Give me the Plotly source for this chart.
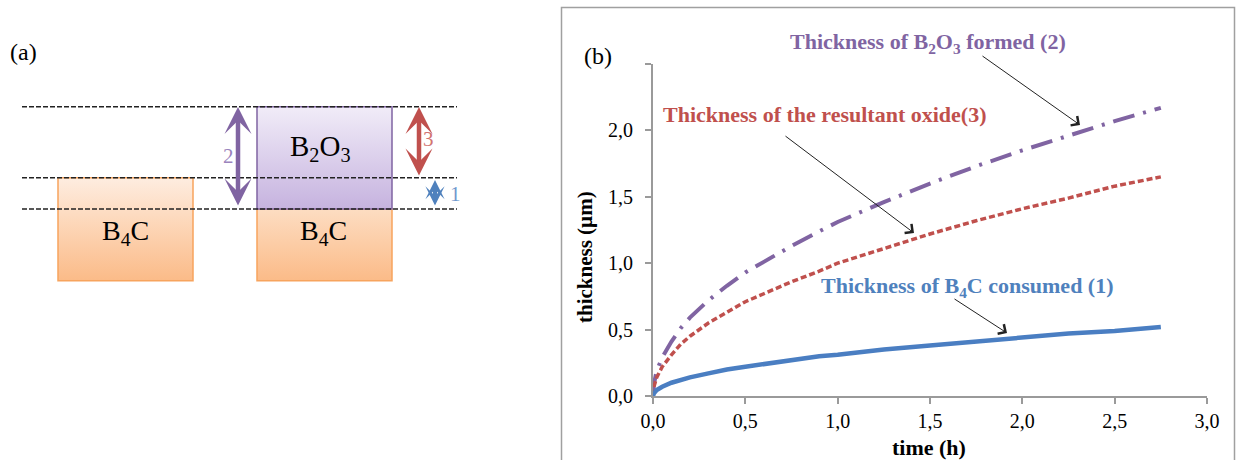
import plotly.graph_objects as go

# ---------------- data (panel b) ----------------
time_h = [0, 0.005, 0.02, 0.05, 0.1, 0.15, 0.2, 0.3, 0.4, 0.5, 0.6, 0.75, 0.9, 1.0,
          1.25, 1.5, 1.75, 2.0, 2.25, 2.5, 2.75]
b4c_consumed = [0, 0.02, 0.045, 0.07, 0.10, 0.12, 0.14, 0.17, 0.20, 0.22, 0.24, 0.27, 0.30, 0.31,
                0.35, 0.38, 0.41, 0.44, 0.47, 0.49, 0.52]
b2o3_formed = [0, 0.09, 0.19, 0.29, 0.41, 0.51, 0.59, 0.72, 0.83, 0.93, 1.01, 1.13, 1.24, 1.31,
               1.46, 1.60, 1.73, 1.85, 1.96, 2.07, 2.17]
resultant_oxide = [0, 0.07, 0.14, 0.22, 0.31, 0.39, 0.45, 0.55, 0.63, 0.71, 0.77, 0.86, 0.94, 1.00,
                   1.11, 1.22, 1.32, 1.41, 1.49, 1.58, 1.65]

x_tick_vals = [0, 0.5, 1.0, 1.5, 2.0, 2.5, 3.0]
x_tick_text = ["0,0", "0,5", "1,0", "1,5", "2,0", "2,5", "3,0"]
y_tick_vals = [0, 0.5, 1.0, 1.5, 2.0, 2.5]
y_tick_text = ["0,0", "0,5", "1,0", "1,5", "2,0", ""]

W, H = 1236, 460
PURPLE = "#8064A2"
RED = "#C0504D"
BLUE = "#4A7EC2"
AXIS = "#9A9A9A"
SERIF = "Liberation Serif"


def P(py):
    """convert a pixel row (from the top) to the overlay y axis (up)"""
    return H - py


fig = go.Figure()

# ---- panel b curves ----
fig.add_trace(go.Scatter(x=time_h, y=b2o3_formed, mode="lines",
                         line=dict(color=PURPLE, width=4, dash="22px,9px,3px,9px"),
                         name="Thickness of B2O3 formed (2)", xaxis="x", yaxis="y"))
fig.add_trace(go.Scatter(x=time_h, y=resultant_oxide, mode="lines",
                         line=dict(color=RED, width=3.5, dash="6px,3px"),
                         name="Thickness of the resultant oxide (3)", xaxis="x", yaxis="y"))
fig.add_trace(go.Scatter(x=time_h, y=b4c_consumed, mode="lines",
                         line=dict(color=BLUE, width=4.5),
                         name="Thickness of B4C consumed (1)", xaxis="x", yaxis="y"))

# ---- panel a schematic (pixel geometry on an invisible overlay axis) ----
boxes = [
    # x0, x1, top, bottom, top colour, bottom colour, border
    (58, 193, 177.7, 280.7, "#FEEDE0", "#FBBB88", "#F7A45E"),
    (257, 392, 209, 280.7, "#FDDDC2", "#FBBB88", "#F7A45E"),
    (257, 392, 106.7, 209, "#F1ECF8", "#C6B3DF", PURPLE),
]
for x0, x1, top, bot, ctop, cbot, border in boxes:
    fig.add_trace(go.Scatter(
        x=[x0, x1, x1, x0, x0], y=[P(top), P(top), P(bot), P(bot), P(top)],
        mode="lines", fill="toself", line=dict(color=border, width=1.5),
        fillgradient=dict(type="vertical", colorscale=[[0, cbot], [1, ctop]]),
        xaxis="x2", yaxis="y2", hoverinfo="skip", showlegend=False))

fig.update_layout(
    width=W, height=H,
    margin=dict(l=0, r=0, t=0, b=0, pad=0, autoexpand=False),
    paper_bgcolor="white", plot_bgcolor="rgba(0,0,0,0)",
    showlegend=False,
    separators=", ",
    xaxis=dict(domain=[653 / W, 1207 / W], range=[0, 3.0], tickvals=x_tick_vals, ticktext=x_tick_text,
               showline=True, linecolor=AXIS, linewidth=2, ticks="outside", ticklen=6,
               tickcolor=AXIS, tickwidth=2, showgrid=False, zeroline=False, automargin=False,
               tickfont=dict(family=SERIF, size=20, color="black"), ticklabelstandoff=0),
    yaxis=dict(domain=[1 - 396 / H, 1 - 64 / H], range=[0, 2.5], tickvals=y_tick_vals, ticktext=y_tick_text,
               showline=True, linecolor=AXIS, linewidth=2, ticks="outside", ticklen=6,
               tickcolor=AXIS, tickwidth=2, showgrid=False, zeroline=False, automargin=False,
               tickfont=dict(family=SERIF, size=20, color="black"), ticklabelstandoff=8),
    xaxis2=dict(domain=[0, 1], range=[0, W], visible=False, fixedrange=True, automargin=False),
    yaxis2=dict(domain=[0, 1], range=[0, H], visible=False, fixedrange=True, automargin=False),
)

shapes = []
# dashed reference lines of the schematic
for py in [106.7, 177.7, 209]:
    shapes.append(dict(type="line", xref="x2", yref="y2", x0=22, x1=457, y0=P(py), y1=P(py),
                       line=dict(color="#222222", width=1.5, dash="5px,2px")))
# border of panel b (bottom edge falls outside the picture)
shapes.append(dict(type="rect", xref="x2", yref="y2", x0=561.5, x1=1234.5, y0=-10, y1=P(7.5),
                   line=dict(color="#A0A0A0", width=1.5), fillcolor="rgba(0,0,0,0)"))
fig.update_layout(shapes=shapes)

ann = []


def text(x, y, s, size, color="black", angle=0):
    ann.append(dict(x=x, y=P(y), xref="x2", yref="y2", text=s, showarrow=False,
                    xanchor="center", yanchor="middle", textangle=angle,
                    font=dict(family=SERIF, size=size, color=color)))


def arrow(tail, head, color, width, size, headstyle, both=False):
    d = dict(x=head[0], y=P(head[1]), ax=tail[0], ay=P(tail[1]), xref="x2", yref="y2",
             axref="x2", ayref="y2", text="", showarrow=True, arrowcolor=color,
             arrowwidth=width, arrowsize=size, arrowhead=headstyle, standoff=0, startstandoff=0)
    if both:
        d.update(arrowside="end+start", startarrowhead=headstyle, startarrowsize=size)
    ann.append(d)


# panel labels
text(23, 52, "(a)", 24)
text(598, 56, "(b)", 24)

# schematic texts
text(320, 148, "B<sub>2</sub>O<sub>3</sub>", 29)
text(125, 232, "B<sub>4</sub>C", 28)
text(323, 232, "B<sub>4</sub>C", 28)
text(228, 156, "2", 21, "#9A84BD")
text(428, 139, "3", 21, "#D27471")
text(455, 194, "1", 21, "#6F98CE")

# schematic double arrows
arrow((238, 207), (238, 107), PURPLE, 4.5, 1.0, 3, both=True)
arrow((419, 177), (419, 107), RED, 4.5, 1.0, 3, both=True)
arrow((435, 207), (435, 180), "#4F81BD", 4, 0.8, 3, both=True)

# chart annotations
text(928, 43, "<b>Thickness of B<sub>2</sub>O<sub>3</sub> formed (2)</b>", 22, PURPLE)
text(825, 114, "<b>Thickness of the resultant oxide(3)</b>", 22, RED)
text(967, 287, "<b>Thickness of B<sub>4</sub>C consumed (1)</b>", 22, "#4F81BD")
arrow((981, 55), (1080, 125), "#222222", 1, 2.2, 4)
arrow((784, 135), (914, 233), "#222222", 1, 2.2, 4)
arrow((953, 298), (1007, 333), "#222222", 1, 2.2, 4)

# axis titles
text(585, 257, "<b>thickness (µm)</b>", 21, "black", angle=-90)
text(929, 447, "<b>time (h)</b>", 22, "black")

fig.update_layout(annotations=ann)
fig.write_html("out.html", config={"displayModeBar": False},
               post_script="document.body.style.margin='0';")
